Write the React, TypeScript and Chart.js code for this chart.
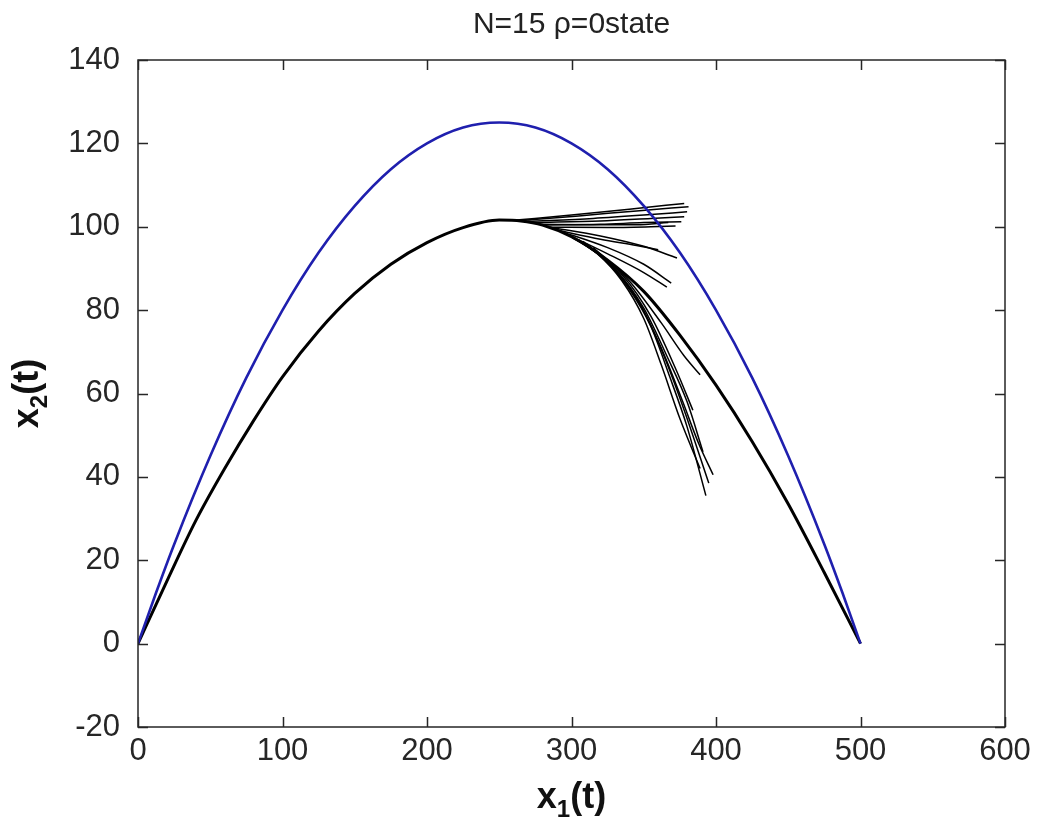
import React, { useEffect, useRef } from "react";
import { Chart, registerables } from "chart.js";

Chart.register(...registerables);

const titleText = "N=15 ρ=0state";
const xTicks = [0, 100, 200, 300, 400, 500, 600];
const yTicks = [-20, 0, 20, 40, 60, 80, 100, 120, 140];

// Blue reference trajectory (x1, x2)
const bluePath: [number, number][] = [
  [0, 0], [12.5, 12.2], [25, 23.8], [50, 45], [75, 63.8], [100, 80], [125, 93.8], [150, 105],
  [175, 113.8], [200, 120], [225, 123.8], [250, 125], [275, 123.8], [300, 120], [325, 113.8],
  [350, 105], [375, 93.8], [400, 80], [425, 63.8], [450, 45], [475, 23.8], [487.5, 12.2], [500, 0],
];

// Main black trajectory
const mainPath: [number, number][] = [
  [0, 0], [20, 15], [40, 29.5], [60, 42], [80, 53.5], [100, 64], [125, 75], [150, 84],
  [175, 91], [200, 96.2], [225, 99.8], [250, 101.6], [265, 101.4], [280, 100.4], [300, 97.6],
  [325, 92], [350, 84.5], [375, 74], [400, 62], [425, 48.5], [450, 33.5], [475, 17], [500, 0],
];

// Upper fan
const upper1: [number, number][] = [[262, 101.6], [300, 102.8], [340, 104.2], [378, 105.6]];
const upper2: [number, number][] = [[265, 101.5], [305, 102.6], [345, 103.8], [381, 104.8]];
const upper3: [number, number][] = [[270, 101.3], [315, 102], [350, 102.8], [380, 103.6]];
const upper4: [number, number][] = [[275, 101], [320, 101.4], [355, 102], [378, 102.4]];
const upper5: [number, number][] = [[280, 100.4], [320, 100.6], [350, 101], [376, 101.2]];
const upper6: [number, number][] = [[285, 99.9], [325, 99.8], [355, 100], [372, 100.2]];
const upper7: [number, number][] = [[278, 100.6], [315, 100.5], [345, 100.5], [367, 101]];

// Middle fan
const middle1: [number, number][] = [[285, 99.9], [320, 97.8], [350, 95.3], [373, 92.5]];
const middle2: [number, number][] = [[290, 99.2], [325, 95], [350, 91], [369, 86.5]];
const middle3: [number, number][] = [[295, 98.5], [325, 93.5], [350, 89], [366, 85.5]];
const middle4: [number, number][] = [[290, 99.2], [320, 97], [345, 95.5], [360, 94.5]];

// Lower fan
const lower1: [number, number][] = [[300, 97.6], [320, 93], [340, 85], [355, 76], [368, 64], [380, 52], [393, 35.5]];
const lower2: [number, number][] = [[305, 96.8], [325, 91.5], [345, 83], [362, 71], [377, 58], [388, 48], [398, 40.5]];
const lower3: [number, number][] = [[300, 97.6], [318, 93.5], [335, 87], [350, 78], [362, 67], [375, 54], [389, 42]];
const lower4: [number, number][] = [[305, 96.8], [328, 90.5], [348, 81], [364, 69], [378, 56], [395, 38.5]];
const lower5: [number, number][] = [[308, 96.5], [330, 90], [350, 80.5], [366, 69], [380, 58], [391, 46]];
const lower6: [number, number][] = [[310, 96], [335, 88.5], [355, 78.5], [372, 66], [384, 56]];
const lower7: [number, number][] = [[315, 95], [340, 87], [362, 77], [378, 69], [389, 64.5]];

const fanPaths = [
  upper1, upper2, upper3, upper4, upper5, upper6, upper7,
  middle1, middle2, middle3, middle4,
  lower1, lower2, lower3, lower4, lower5, lower6, lower7,
];

const FONT = '"Liberation Sans", Arial, Helvetica, sans-serif';
const TICK_FONT = '"Liberation Sans Narrow", "Liberation Sans", Arial, sans-serif';
const BLUE = "#1f1fae";
const AXIS = "#262626";

const toPts = (p: [number, number][]) => p.map(([x, y]) => ({ x, y }));

function drawSubLabel(ctx: CanvasRenderingContext2D, base: string, sub: string, rest: string, cx: number, baseline: number) {
  const big = `bold 36px ${FONT}`;
  const small = `bold 24px ${FONT}`;
  ctx.font = big;
  const w1 = ctx.measureText(base).width;
  const w3 = ctx.measureText(rest).width;
  ctx.font = small;
  const w2 = ctx.measureText(sub).width;
  const total = w1 + w2 + w3;
  let x = cx - total / 2;
  ctx.textAlign = "left";
  ctx.textBaseline = "alphabetic";
  ctx.font = big;
  ctx.fillText(base, x, baseline);
  x += w1;
  ctx.font = small;
  ctx.fillText(sub, x, baseline + 9);
  x += w2;
  ctx.font = big;
  ctx.fillText(rest, x, baseline);
}

const framePlugin = {
  id: "matlabFrame",
  afterDraw(chart: any) {
    const { ctx, chartArea: a, scales } = chart;
    const xs = scales.x;
    const ys = scales.y;
    ctx.save();
    ctx.strokeStyle = AXIS;
    ctx.lineWidth = 1.5;
    ctx.strokeRect(a.left, a.top, a.right - a.left, a.bottom - a.top);
    const tl = 10;
    ctx.beginPath();
    xTicks.forEach((v) => {
      const px = Math.round(xs.getPixelForValue(v)) + 0.5;
      ctx.moveTo(px, a.bottom);
      ctx.lineTo(px, a.bottom - tl);
      ctx.moveTo(px, a.top);
      ctx.lineTo(px, a.top + tl);
    });
    yTicks.forEach((v) => {
      const py = Math.round(ys.getPixelForValue(v)) + 0.5;
      ctx.moveTo(a.left, py);
      ctx.lineTo(a.left + tl, py);
      ctx.moveTo(a.right, py);
      ctx.lineTo(a.right - tl, py);
    });
    ctx.stroke();

    // title
    ctx.fillStyle = "#222";
    ctx.font = `30px ${TICK_FONT}`;
    ctx.textAlign = "center";
    ctx.textBaseline = "alphabetic";
    ctx.fillText(titleText, (a.left + a.right) / 2, 33);

    // x label
    ctx.fillStyle = "#111";
    drawSubLabel(ctx, "x", "1", "(t)", (a.left + a.right) / 2, 808);

    // y label (rotated)
    ctx.save();
    ctx.translate(38, (a.top + a.bottom) / 2);
    ctx.rotate(-Math.PI / 2);
    drawSubLabel(ctx, "x", "2", "(t)", 0, 0);
    ctx.restore();

    ctx.restore();
  },
};

export default function App() {
  const ref = useRef<HTMLCanvasElement | null>(null);

  useEffect(() => {
    document.body.style.margin = "0";
    const canvas = ref.current;
    if (!canvas) return;
    const datasets: any[] = [
      {
        data: toPts(bluePath),
        borderColor: BLUE,
        borderWidth: 2.6,
        cubicInterpolationMode: "monotone",
        order: 0,
      },
      {
        data: toPts(mainPath),
        borderColor: "#000",
        borderWidth: 3,
        cubicInterpolationMode: "monotone",
        order: 1,
      },
      ...fanPaths.map((p) => ({
        data: toPts(p),
        borderColor: "#000",
        borderWidth: 1.5,
        cubicInterpolationMode: "monotone",
        order: 2,
      })),
    ];
    const chart = new Chart(canvas, {
      type: "scatter",
      data: { datasets },
      options: {
        animation: false,
        responsive: false,
        devicePixelRatio: 1,
        showLine: true,
        elements: { point: { radius: 0, hoverRadius: 0 }, line: { fill: false } },
        layout: { padding: { left: 0, right: 34, top: 60, bottom: 0 } },
        plugins: {
          legend: { display: false },
          tooltip: { enabled: false },
          title: { display: false },
        },
        scales: {
          x: {
            type: "linear",
            min: 0,
            max: 600,
            afterFit: (s: any) => {
              s.height = 99;
            },
            afterBuildTicks: (s: any) => {
              s.ticks = xTicks.map((v) => ({ value: v }));
            },
            grid: { display: false },
            border: { display: false },
            ticks: {
              padding: -2,
              color: AXIS,
              font: { family: TICK_FONT, size: 31 },
              maxRotation: 0,
            },
          },
          y: {
            type: "linear",
            min: -20,
            max: 140,
            afterFit: (s: any) => {
              s.width = 138;
            },
            afterBuildTicks: (s: any) => {
              s.ticks = yTicks.map((v) => ({ value: v }));
            },
            grid: { display: false },
            border: { display: false },
            ticks: {
              padding: 10,
              color: AXIS,
              font: { family: TICK_FONT, size: 31 },
            },
          },
        },
      },
      plugins: [framePlugin],
    });
    return () => chart.destroy();
  }, []);

  return (
    <div style={{ width: 1039, height: 826, background: "#fff" }}>
      <canvas ref={ref} width={1039} height={826} style={{ display: "block" }} />
    </div>
  );
}
